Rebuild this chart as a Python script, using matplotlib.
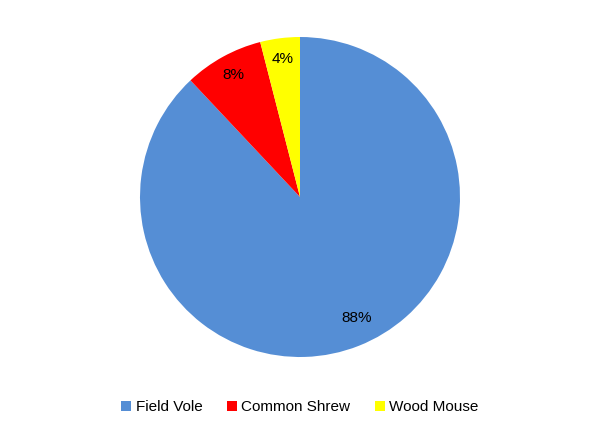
import numpy as np
import matplotlib.pyplot as plt

plt.rcParams['font.family'] = ['Liberation Sans', 'DejaVu Sans']

# Données
species = ["Field Vole", "Common Shrew", "Wood Mouse"]
shares = [88, 8, 4]
colors = ["#558ED5", "#FF0000", "#FFFF00"]

fig = plt.figure(figsize=(6, 4.3), dpi=100)
ax = fig.add_axes([140 / 600, 73 / 430, 320 / 600, 320 / 430])

wedges, texts, autotexts = ax.pie(
    shares,
    colors=colors,
    startangle=90,
    counterclock=False,
    autopct="%d%%",
    pctdistance=0.87,
    wedgeprops={"linewidth": 0},
    textprops={"fontsize": 11, "color": "black"},
)
ax.set_aspect("equal")
ax.set_xlim(-1, 1)
ax.set_ylim(-1, 1)

# Étiquette du grand secteur (placée comme dans Excel, un peu décalée)
w = wedges[0]
mid = np.deg2rad((w.theta1 + w.theta2) / 2 + 3.6)
autotexts[0].set_position((0.835 * np.cos(mid), 0.835 * np.sin(mid)))

fig.legend(
    wedges,
    species,
    loc="center",
    bbox_to_anchor=(0.5, 23 / 430),
    ncol=3,
    frameon=False,
    fontsize=11,
    handlelength=0.65,
    handleheight=0.65,
    handletextpad=0.3,
    columnspacing=1.6,
)

fig.savefig("out.png", dpi=100)
